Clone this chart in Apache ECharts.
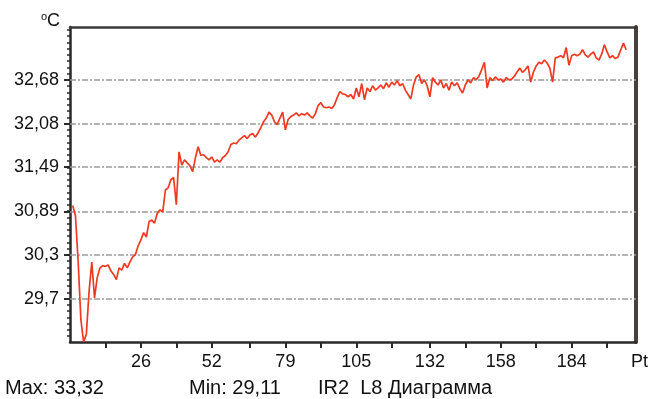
<!DOCTYPE html>
<html>
<head>
<meta charset="utf-8">
<script src="https://cdn.jsdelivr.net/npm/echarts@6/dist/echarts.min.js"></script>
<style>
  html, body { margin: 0; padding: 0; background: #ffffff; }
  #chart { width: 651px; height: 399px; }
</style>
</head>
<body>
<div id="chart"></div>
<script>
// Temperature readings (°C), one per sample point, starting at point 1
const temps = [
  30.97, 30.83, 30.20, 29.41, 29.11, 29.22, 29.80, 30.20, 29.71, 29.99,
  30.12, 30.15, 30.14, 30.16, 30.08, 30.03, 29.96, 30.12, 30.09, 30.18,
  30.12, 30.20, 30.27, 30.30, 30.42, 30.50, 30.60, 30.54, 30.75, 30.77,
  30.73, 30.86, 30.91, 30.88, 31.18, 31.21, 31.32, 31.35, 30.98, 31.70,
  31.52, 31.59, 31.55, 31.51, 31.43, 31.62, 31.77, 31.65, 31.66, 31.62,
  31.59, 31.63, 31.56, 31.59, 31.56, 31.62, 31.65, 31.70, 31.80, 31.82,
  31.81, 31.86, 31.89, 31.92, 31.88, 31.93, 31.95, 31.90, 31.96, 32.03,
  32.11, 32.16, 32.24, 32.20, 32.11, 32.07, 32.16, 32.24, 32.00, 32.14,
  32.18, 32.20, 32.23, 32.19, 32.22, 32.20, 32.23, 32.19, 32.16, 32.22,
  32.33, 32.37, 32.31, 32.30, 32.31, 32.29, 32.34, 32.44, 32.52, 32.49,
  32.48, 32.45, 32.48, 32.42, 32.57, 32.45, 32.63, 32.41, 32.57, 32.52,
  32.60, 32.54, 32.57, 32.61, 32.56, 32.64, 32.58, 32.65, 32.61, 32.67,
  32.60, 32.63, 32.54, 32.48, 32.42, 32.61, 32.72, 32.75, 32.63, 32.68,
  32.60, 32.45, 32.71, 32.65, 32.61, 32.68, 32.57, 32.63, 32.54, 32.65,
  32.60, 32.64, 32.56, 32.50, 32.61, 32.68, 32.64, 32.71, 32.68, 32.73,
  32.82, 32.92, 32.57, 32.71, 32.67, 32.72, 32.68, 32.69, 32.65, 32.71,
  32.68, 32.69, 32.73, 32.79, 32.84, 32.78, 32.82, 32.87, 32.65, 32.79,
  32.87, 32.92, 32.90, 32.95, 32.91, 32.84, 32.65, 32.98, 32.99, 33.01,
  32.98, 33.12, 32.88, 33.01, 33.03, 33.01, 33.03, 33.09, 33.02, 32.99,
  33.03, 33.06, 32.98, 32.95, 33.03, 33.16, 33.06, 32.98, 33.01, 32.97,
  32.99, 33.09, 33.18, 33.09
];

// Axis ticks and labels
const yTicks = [29.7, 30.3, 30.89, 31.49, 32.08, 32.68];
const xLabels = [26, 52, 79, 105, 132, 158, 184];
const xTicks = [13, 26, 39, 52, 66, 79, 92, 105, 118, 132, 145, 158, 171, 184, 197];
const yRange = [29.11, 33.40];
const xRange = [0, 207.6];

// Footer texts
const statMax = 'Max: 33,32';
const statMin = 'Min: 29,11';
const caption = 'IR2  L8 Диаграмма';
const unitY = 'C';
const unitX = 'Pt';

// Minor ticks on the temperature axis: seven per labelled step
const yStep = (yTicks[yTicks.length - 1] - yTicks[0]) / (yTicks.length - 1);
const yMinor = [];
for (let k = -7; k <= 60; k++) {
  const v = yTicks[0] + k * yStep / 7;
  if (v > yRange[0] + 0.02 && v < yRange[1] - 0.02) yMinor.push(+v.toFixed(4));
}

const FONT = '"Liberation Sans", Arial, Helvetica, sans-serif';
const comma = v => String(v).replace('.', ',');

const chart = echarts.init(document.getElementById('chart'), null, { renderer: 'canvas' });

chart.setOption({
  animation: false,
  backgroundColor: '#ffffff',
  grid: { left: 70, top: 27, width: 566, height: 315 },
  xAxis: [
    {
      type: 'value', position: 'bottom', min: xRange[0], max: xRange[1],
      axisLine: { show: true, lineStyle: { color: '#2a2a2a', width: 2.5 } },
      axisTick: { show: true, customValues: xTicks, length: 6, lineStyle: { color: '#2a2a2a', width: 2 } },
      axisLabel: {
        show: true, customValues: xLabels, margin: 11,
        fontSize: 18, fontFamily: FONT, color: '#111'
      },
      splitLine: { show: false }
    },
    {
      type: 'value', position: 'top', min: xRange[0], max: xRange[1],
      axisLine: { show: true, lineStyle: { color: '#3a3a3a', width: 2.5 } },
      axisTick: { show: false }, axisLabel: { show: false }, splitLine: { show: false }
    }
  ],
  yAxis: [
    {
      type: 'value', position: 'left', min: yRange[0], max: yRange[1],
      axisLine: { show: true, lineStyle: { color: '#2a2a2a', width: 2.5 } },
      axisTick: { show: true, customValues: yTicks, length: 6, lineStyle: { color: '#2a2a2a', width: 2 } },
      axisLabel: {
        show: true, customValues: yTicks, margin: 11,
        formatter: comma, fontSize: 18, fontFamily: FONT, color: '#111'
      },
      splitLine: { show: false }
    },
    {
      type: 'value', position: 'left', min: yRange[0], max: yRange[1],
      axisLine: { show: false },
      axisTick: { show: true, customValues: yMinor, length: 3, lineStyle: { color: '#2a2a2a', width: 1.5 } },
      axisLabel: { show: false }, splitLine: { show: false }
    },
    {
      type: 'value', position: 'right', min: yRange[0], max: yRange[1],
      axisLine: { show: true, lineStyle: { color: '#4a3f3a', width: 4 } },
      axisTick: { show: false }, axisLabel: { show: false }, splitLine: { show: false }
    }
  ],
  series: [
    {
      type: 'line',
      xAxisIndex: 0, yAxisIndex: 0,
      data: temps.map((v, i) => [i + 1, v]),
      showSymbol: false,
      lineStyle: { color: '#ee3a22', width: 1.7 },
      z: 5,
      markLine: {
        silent: true,
        symbol: ['none', 'none'],
        label: { show: false },
        lineStyle: { color: '#9c9c9c', width: 1.5, type: [6, 2, 2, 2] },
        data: yTicks.map(v => ({ yAxis: v })),
        z: 1
      }
    }
  ],
  graphic: [
    { type: 'text', left: 41, top: 11, style: { text: 'o', font: '11px ' + FONT, fill: '#111' } },
    { type: 'text', left: 47, top: 12, style: { text: unitY, font: '18px ' + FONT, fill: '#111' } },
    { type: 'text', left: 631, top: 353, style: { text: unitX, font: '18px ' + FONT, fill: '#111' } },
    { type: 'text', left: 5, top: 378, style: { text: statMax, font: '20px ' + FONT, fill: '#111' } },
    { type: 'text', left: 189, top: 378, style: { text: statMin, font: '20px ' + FONT, fill: '#111' } },
    { type: 'text', left: 318, top: 378, style: { text: caption, font: '20px ' + FONT, fill: '#111' } }
  ]
});
</script>
</body>
</html>
